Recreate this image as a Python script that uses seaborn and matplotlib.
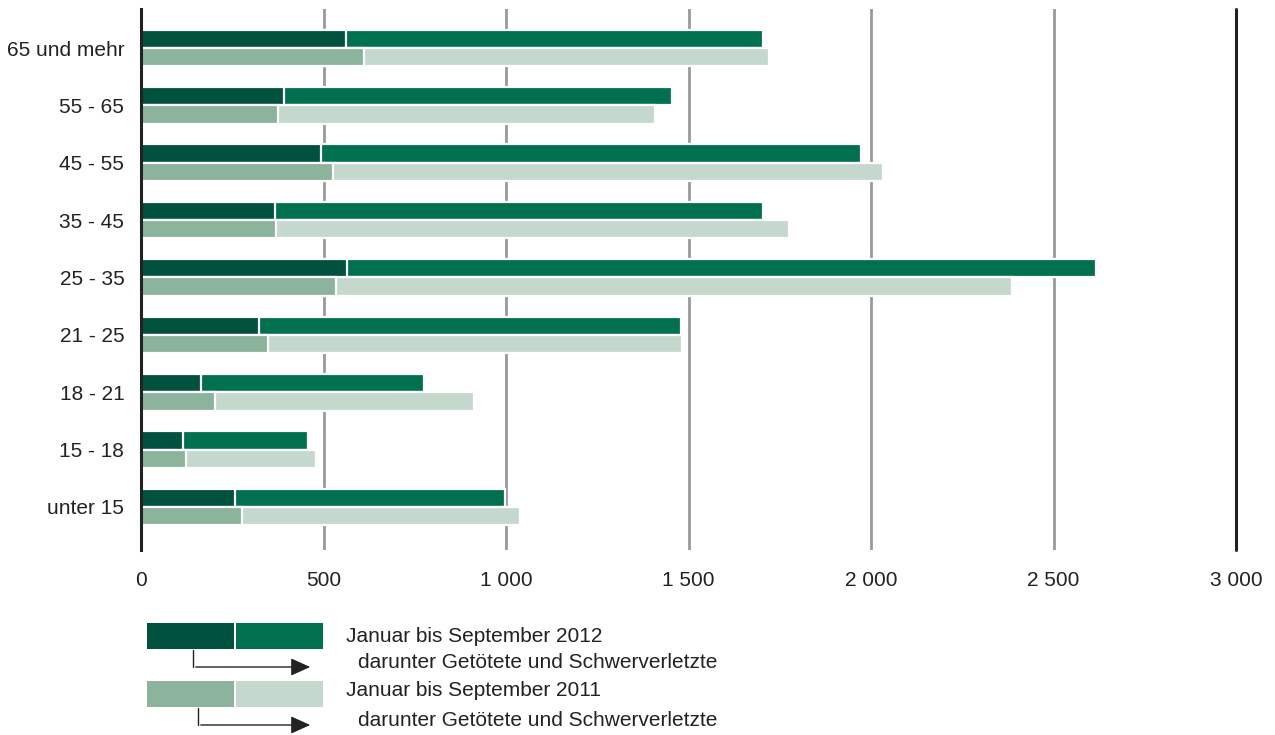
import numpy as np
import pandas as pd
import seaborn as sns
import matplotlib.pyplot as plt
from matplotlib.patches import Rectangle

# age groups, top to bottom
groups = ["65 und mehr", "55 - 65", "45 - 55", "35 - 45", "25 - 35",
          "21 - 25", "18 - 21", "15 - 18", "unter 15"]
total_2012 = [1704, 1455, 1973, 1704, 2616, 1479, 775, 458, 997]
severe_2012 = [562, 392, 493, 367, 564, 323, 164, 115, 258]
total_2011 = [1721, 1408, 2033, 1775, 2386, 1482, 912, 479, 1038]
severe_2011 = [611, 375, 526, 370, 534, 348, 203, 123, 277]
years = ["2012", "2011"]
xticks = [0, 500, 1000, 1500, 2000, 2500, 3000]
xticklabels = ["0", "500", "1 000", "1 500", "2 000", "2 500", "3 000"]

c_dark12, c_main12 = "#00523f", "#00704f"
c_dark11, c_main11 = "#8cb39b", "#c5d8cd"

df = pd.DataFrame({
    "group": groups * 2,
    "year": [years[0]] * len(groups) + [years[1]] * len(groups),
    "total": total_2012 + total_2011,
    "severe": severe_2012 + severe_2011,
})

sns.set_theme(style="white")
plt.rcParams["font.family"] = ["Liberation Sans", "DejaVu Sans"]
fs = 15

fig = plt.figure(figsize=(12.75, 7.35), dpi=100)
ax = fig.add_axes([141 / 1275, 1 - 550 / 735, 1095 / 1275, 541 / 735])

for ycol, pal in [("total", [c_main12, c_main11]), ("severe", [c_dark12, c_dark11])]:
    sns.barplot(data=df, y="group", x=ycol, hue="year", order=groups,
                hue_order=years, palette=pal, orient="h", width=0.64,
                dodge=True, edgecolor="white", linewidth=1.6, ax=ax,
                legend=False, zorder=3, saturation=1)

for v in xticks[1:-1]:
    ax.axvline(v, color="#999999", lw=2, zorder=1)
ax.axvline(xticks[-1], color="#222222", lw=2.2, zorder=1, clip_on=False)

ax.set_xlim(0, 3000)
ax.set_ylim(8.75, -0.68)
ax.set_xticks(xticks)
ax.set_xticklabels(xticklabels)
ax.tick_params(axis="x", length=0, pad=15, labelsize=fs, colors="#222222")
ax.tick_params(axis="y", length=0, pad=12, labelsize=fs, colors="#222222")
ax.set_xlabel("")
ax.set_ylabel("")
for s in ["top", "right", "bottom"]:
    ax.spines[s].set_visible(False)
ax.spines["left"].set_color("#222222")
ax.spines["left"].set_linewidth(2.2)
ax.spines["left"].set_zorder(6)
ax.grid(False)

# legend drawn in pixel coordinates
lg = fig.add_axes([0, 0, 1, 1])
lg.set_xlim(0, 1275)
lg.set_ylim(735, 0)
lg.axis("off")
for top, cd, cm, ax_x in [(623, c_dark12, c_main12, 193), (681, c_dark11, c_main11, 198)]:
    lg.add_patch(Rectangle((147, top), 87, 26, color=cd, lw=0))
    lg.add_patch(Rectangle((236, top), 87, 26, color=cm, lw=0))
    yb = top + 44
    lg.plot([ax_x, ax_x], [top + 27, yb], color="#222222", lw=1)
    lg.annotate("", xy=(313, yb), xytext=(ax_x, yb),
                arrowprops=dict(arrowstyle="-|>,head_length=1.0,head_width=0.45",
                                color="#222222", lw=1))
lg.text(346, 636, "Januar bis September 2012", fontsize=fs, va="center", color="#222222")
lg.text(358, 663, "darunter Getötete und Schwerverletzte", fontsize=fs, va="center", color="#222222")
lg.text(346, 690, "Januar bis September 2011", fontsize=fs, va="center", color="#222222")
lg.text(358, 720, "darunter Getötete und Schwerverletzte", fontsize=fs, va="center", color="#222222")

fig.savefig("out.png", dpi=100)
